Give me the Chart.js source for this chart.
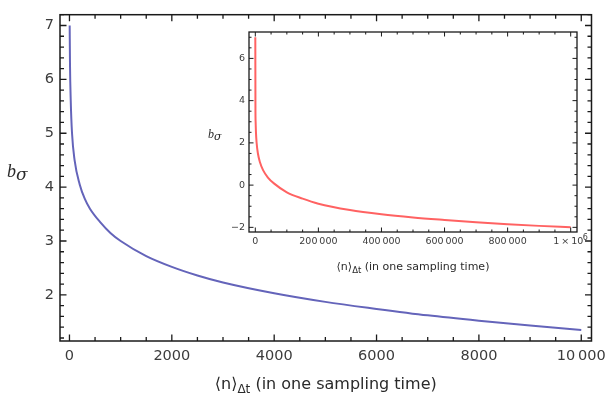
<!DOCTYPE html>
<html>
<head>
<meta charset="utf-8">
<script src="https://cdn.jsdelivr.net/npm/chart.js@4.4.0/dist/chart.umd.min.js"></script>
<style>
  body { margin: 0; background: #fff; }
  #wrap { position: relative; width: 613px; height: 403px; }
  #main { position: absolute; left: 0; top: 0; }
  #inset { position: absolute; left: 190px; top: 20px; }
</style>
</head>
<body>
<div id="wrap">
  <canvas id="main" width="613" height="403"></canvas>
  <canvas id="inset" width="420" height="260"></canvas>
</div>
<script>
// main plot, <n> from 0 to 10000
const mainN = [4, 10, 25, 50, 100, 200, 300, 400, 600, 800, 1000, 1500, 2000, 2500, 3000, 4000, 5000, 6000, 7000, 8000, 9000, 10000];
const mainB = [7.0, 6.3, 5.6, 5.0, 4.5, 4.05, 3.78, 3.6, 3.35, 3.15, 3.0, 2.72, 2.52, 2.36, 2.23, 2.03, 1.87, 1.74, 1.62, 1.52, 1.43, 1.35];
const mainXTicks = [0, 2000, 4000, 6000, 8000, 10000];
const mainXLabels = ['0', '2000', '4000', '6000', '8000', '10\u2009000'];
const mainYTicks = [2, 3, 4, 5, 6, 7];
const mainYLabels = ['2', '3', '4', '5', '6', '7'];

// inset, <n> up to 10^6
const insetN = [3, 500, 1000, 2000, 4000, 8000, 15000, 25000, 40000, 60000, 100000, 150000, 200000, 300000, 400000, 500000, 600000, 700000, 800000, 900000, 1000000];
const insetB = [7.0, 3.45, 3.0, 2.52, 2.03, 1.52, 1.07, 0.7, 0.36, 0.07, -0.34, -0.64, -0.88, -1.18, -1.38, -1.53, -1.65, -1.76, -1.85, -1.93, -1.99];
const insetXTicks = [0, 200000, 400000, 600000, 800000, 1000000];
// last label gets its exponent drawn separately, the space keeps room for it
const insetXLabels = ['0', '200\u2009000', '400\u2009000', '600\u2009000', '800\u2009000', '1\u2009\u00d7\u200910\u2002'];
const insetExp = '6';
const insetYTicks = [-2, 0, 2, 4, 6];
const insetYLabels = ['\u22122', '0', '2', '4', '6'];

const drawParts = (ctx, parts, x0, y0, center) => {
    let w = 0;
    parts.forEach(p => { ctx.font = p.font; w += ctx.measureText(p.text).width; });
    let x = center ? x0 - w / 2 : x0;
    ctx.textAlign = 'left';
    ctx.textBaseline = 'alphabetic';
    parts.forEach(p => {
        ctx.font = p.font;
        ctx.fillText(p.text, x, y0 + (p.dy || 0));
        x += ctx.measureText(p.text).width;
    });
};

// frame all round, ticks pointing inward (mathematica style)
const frameTicks = {
    id: 'frameTicks',
    afterDraw(chart, args, o) {
        const { ctx, chartArea: a, scales: { x, y } } = chart;
        ctx.save();
        ctx.strokeStyle = '#1a1a1a';
        ctx.lineWidth = o.tickWidth;
        const k0 = Math.ceil(x.min / o.xMinor), k1 = Math.floor(x.max / o.xMinor);
        for (let k = k0; k <= k1; k++) {
            const px = x.getPixelForValue(k * o.xMinor);
            const len = k % o.xRatio === 0 ? o.majorLen : o.minorLen;
            ctx.beginPath();
            ctx.moveTo(px, a.bottom); ctx.lineTo(px, a.bottom - len);
            ctx.moveTo(px, a.top); ctx.lineTo(px, a.top + len);
            ctx.stroke();
        }
        const j0 = Math.ceil(y.min / o.yMinor - 1e-9), j1 = Math.floor(y.max / o.yMinor + 1e-9);
        for (let j = j0; j <= j1; j++) {
            const py = y.getPixelForValue(j * o.yMinor);
            const len = j % o.yRatio === 0 ? o.majorLen : o.minorLen;
            ctx.beginPath();
            ctx.moveTo(a.left, py); ctx.lineTo(a.left + len, py);
            ctx.moveTo(a.right, py); ctx.lineTo(a.right - len, py);
            ctx.stroke();
        }
        ctx.lineWidth = o.frameWidth;
        ctx.strokeRect(a.left, a.top, a.right - a.left, a.bottom - a.top);
        ctx.restore();
    }
};

const axisTitles = {
    id: 'axisTitles',
    afterDraw(chart, args, o) {
        const { ctx, chartArea: a, scales: { x } } = chart;
        ctx.save();
        ctx.fillStyle = o.color;
        drawParts(ctx, o.xParts, (a.left + a.right) / 2, a.bottom + o.xGap, true);
        drawParts(ctx, o.yParts, o.yX, o.yY, false);
        if (o.exp) {
            // superscript on the last x tick label
            const e = o.exp;
            ctx.font = e.labelFont;
            const w = ctx.measureText(e.label).width;
            ctx.font = e.font;
            ctx.fillStyle = '#3c3c3c';
            ctx.textAlign = 'left';
            ctx.fillText(e.text, x.getPixelForValue(e.value) + w / 2 - ctx.measureText('\u2002').width * 1.3, a.bottom + e.dy);
        }
        ctx.restore();
    }
};

const makeScale = (min, max, ticks, labels, font, pad, size, isX) => ({
    type: 'linear',
    min: min,
    max: max,
    grid: { display: false, drawTicks: false },
    border: { display: false },
    afterBuildTicks: s => { s.ticks = ticks.map(v => ({ value: v })); },
    afterFit: s => { if (isX) s.height = size; else s.width = size; },
    ticks: {
        autoSkip: false,
        maxRotation: 0,
        padding: pad,
        color: '#3c3c3c',
        font: font,
        callback: v => labels[ticks.indexOf(v)]
    }
});

new Chart(document.getElementById('main'), {
    type: 'scatter',
    data: {
        datasets: [{
            data: mainN.map((n, i) => ({ x: n, y: mainB[i] })),
            showLine: true,
            borderColor: 'rgb(100, 100, 186)',
            borderWidth: 2,
            pointRadius: 0,
            cubicInterpolationMode: 'monotone'
        }]
    },
    options: {
        responsive: false,
        animation: false,
        layout: { padding: { top: 4, right: 12, left: 0, bottom: 0 } },
        scales: {
            x: makeScale(-185, 10200, mainXTicks, mainXLabels, { family: 'DejaVu Sans', size: 14.5 }, 7, 62, true),
            y: makeScale(1.144, 7.2, mainYTicks, mainYLabels, { family: 'DejaVu Sans', size: 14.5 }, 6, 60, false)
        },
        plugins: {
            legend: { display: false },
            tooltip: { enabled: false },
            frameTicks: { xMinor: 500, xRatio: 4, yMinor: 0.2, yRatio: 5, majorLen: 6.5, minorLen: 4, tickWidth: 1.3, frameWidth: 1.5 },
            axisTitles: {
                color: '#2a2a2a',
                xGap: 48,
                xParts: [
                    { text: '\u27e8n\u27e9', font: '16px "DejaVu Sans"' },
                    { text: '\u0394t', font: '12px "DejaVu Sans"', dy: 4 },
                    { text: ' (in one sampling time)', font: '16px "DejaVu Sans"' }
                ],
                yX: 7, yY: 177,
                yParts: [
                    { text: 'b', font: 'italic 18px "Liberation Serif"' },
                    { text: '\u03c3', font: 'italic 17px "DejaVu Serif"', dy: 3 }
                ]
            }
        }
    },
    plugins: [frameTicks, axisTitles]
});

new Chart(document.getElementById('inset'), {
    type: 'scatter',
    data: {
        datasets: [{
            data: insetN.map((n, i) => ({ x: n, y: insetB[i] })),
            showLine: true,
            borderColor: 'rgb(255, 98, 98)',
            borderWidth: 2,
            pointRadius: 0,
            cubicInterpolationMode: 'monotone'
        }]
    },
    options: {
        responsive: false,
        animation: false,
        layout: { padding: { top: 12, right: 33, left: 0, bottom: 0 } },
        scales: {
            x: makeScale(-20000, 1020000, insetXTicks, insetXLabels, { family: 'DejaVu Sans', size: 9.5 }, 4, 48, true),
            y: makeScale(-2.22, 7.25, insetYTicks, insetYLabels, { family: 'DejaVu Sans', size: 9.5 }, 4, 59, false)
        },
        plugins: {
            legend: { display: false },
            tooltip: { enabled: false },
            frameTicks: { xMinor: 50000, xRatio: 4, yMinor: 0.5, yRatio: 4, majorLen: 4.5, minorLen: 2.5, tickWidth: 1, frameWidth: 1.3 },
            axisTitles: {
                color: '#2a2a2a',
                xGap: 38,
                xParts: [
                    { text: '\u27e8n\u27e9', font: '11px "DejaVu Sans"' },
                    { text: '\u0394t', font: '8.5px "DejaVu Sans"', dy: 3 },
                    { text: ' (in one sampling time)', font: '11px "DejaVu Sans"' }
                ],
                yX: 18, yY: 118,
                yParts: [
                    { text: 'b', font: 'italic 12px "Liberation Serif"' },
                    { text: '\u03c3', font: 'italic 11px "DejaVu Serif"', dy: 2 }
                ],
                exp: { value: 1000000, text: insetExp, label: insetXLabels[5], labelFont: '9.5px "DejaVu Sans"', font: '8px "DejaVu Sans"', dy: 8 }
            }
        }
    },
    plugins: [frameTicks, axisTitles]
});
</script>
</body>
</html>
